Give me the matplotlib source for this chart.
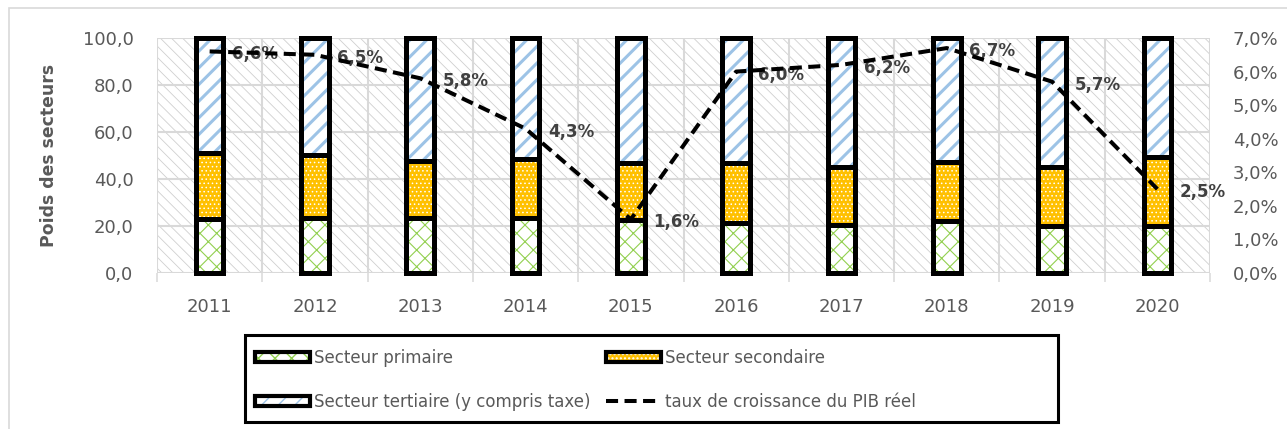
import numpy as np
import matplotlib
matplotlib.use('Agg')
import matplotlib.pyplot as plt
from matplotlib.patches import Rectangle
from matplotlib.lines import Line2D
from matplotlib.ticker import FuncFormatter, FixedLocator

years = ['2011', '2012', '2013', '2014', '2015', '2016', '2017', '2018', '2019', '2020']
primaire = [23.0, 23.5, 23.5, 23.3, 22.5, 21.3, 20.5, 22.3, 19.8, 20.0]
secondaire = [27.9, 26.7, 24.2, 25.2, 24.2, 25.4, 24.7, 25.1, 25.4, 29.2]
tertiaire = [49.1, 49.8, 52.3, 51.5, 53.3, 53.3, 54.8, 52.6, 54.8, 50.8]
taux = [6.6, 6.5, 5.8, 4.3, 1.6, 6.0, 6.2, 6.7, 5.7, 2.5]

names = ['Secteur primaire', 'Secteur secondaire', 'Secteur tertiaire (y compris taxe)']
line_name = 'taux de croissance du PIB r\u00e9el'

gray_txt = '#595959'
grid_col = '#d9d9d9'

def hatch_lw(p, lw):
  if hasattr(p, 'set_hatch_linewidth'):
    p.set_hatch_linewidth(lw)

def fr(v, dec=1):
  return ('%.*f' % (dec, v)).replace('.', ',')

W, H = 1287, 429
f = plt.figure(figsize=(W/100, H/100), dpi=100)

# chart area border
f.patches.append(Rectangle((9/W, -0.1), 1.2, 1 - 8/H + 0.1, transform=f.transFigure,
                           fill=False, edgecolor=grid_col, lw=1.2))

ax = f.add_axes([157/W, (H-273)/H, (1210-157)/W, (273-38)/H])
x = np.arange(len(years))

# hatched plot area background
bg = Rectangle((0, 0), 1, 1, transform=ax.transAxes, facecolor='white', edgecolor='#cfcfcf',
               hatch='\\\\\\', lw=0, zorder=0)
hatch_lw(bg, 0.6)
ax.add_patch(bg)

w = 0.263
bottoms = [np.zeros(len(x)), np.array(primaire), np.array(primaire) + np.array(secondaire)]
vals = [primaire, secondaire, tertiaire]
faces = ['white', '#ffc000', 'white']
hcols = ['#92d050', 'white', '#9dc3e6']
hatches = ['xx', '....', '//']
hlws = [0.8, 0.6, 2.2]
for i in range(3):
  b = ax.bar(x, vals[i], w, bottom=bottoms[i], facecolor=faces[i], edgecolor=hcols[i],
             hatch=hatches[i], lw=0, zorder=2)
  for p in b.patches:
    hatch_lw(p, hlws[i])
  o = ax.bar(x, vals[i], w, bottom=bottoms[i], fill=False, edgecolor='black', lw=3.6, zorder=3)
  for p in o.patches:
    p.set_clip_on(False)

ax.set_xlim(-0.5, len(x) - 0.5)
ax.set_ylim(0, 100)
ax.set_yticks(np.arange(0, 101, 20))
ax.yaxis.set_major_formatter(FuncFormatter(lambda v, p: fr(v)))
ax.set_xticks(x)
ax.set_xticklabels(years)
ax.xaxis.set_minor_locator(FixedLocator(np.arange(-0.5, len(x), 1)))
for s in ax.spines.values():
  s.set_visible(False)
ax.grid(True, axis='y', which='major', color=grid_col, lw=1.5, zorder=1)
ax.grid(True, axis='x', which='minor', color=grid_col, lw=1.5, zorder=1)
ax.set_axisbelow(True)
ax.tick_params(axis='x', which='major', length=0, pad=18, labelsize=13, labelcolor=gray_txt)
ax.tick_params(axis='x', which='minor', length=6.5, width=1.1, color=grid_col)
ax.tick_params(axis='y', length=0, pad=17, labelsize=13, labelcolor=gray_txt)
ax.set_ylabel('Poids des secteurs', fontsize=12.4, fontweight='bold', color=gray_txt)
ax.yaxis.set_label_coords(-0.094, 0.5)

ax2 = ax.twinx()
ax2.set_ylim(0, 7)
ax2.set_yticks(np.arange(0, 7.01, 1))
ax2.yaxis.set_major_formatter(FuncFormatter(lambda v, p: fr(v) + '%'))
ax2.tick_params(axis='y', length=0, pad=16.5, labelsize=13, labelcolor=gray_txt)
for s in ax2.spines.values():
  s.set_visible(False)
ln, = ax2.plot(x, taux, color='black', lw=2.9, linestyle=(0, (3, 1.6)), dash_capstyle='butt', zorder=5)
ln.set_clip_on(False)
for i in range(len(x)):
  ax2.annotate(fr(taux[i]) + '%', (x[i], taux[i]), xytext=(16, -2.2), textcoords='offset points',
               ha='left', va='center', fontsize=12, fontweight='bold', color='#404040',
               annotation_clip=False)

# legend handles: coloured hatch + black frame on top
def key(i):
  fill = Rectangle((0, 0), 1, 1, facecolor=faces[i], edgecolor=hcols[i], hatch=hatches[i], lw=0)
  hatch_lw(fill, hlws[i])
  edge = Rectangle((0, 0), 1, 1, fill=False, edgecolor='black', lw=3.0)
  return (fill, edge)

handles = [key(0), key(2), key(1),
           Line2D([], [], color='black', lw=2.9, linestyle=(0, (3, 1.6)))]
labels = [names[0], names[2], names[1], line_name]
leg = f.legend(handles, labels, ncol=2, loc='upper left', bbox_to_anchor=(241/W, 1 - 335/H),
               fontsize=12, handlelength=3.3, handleheight=0.6, handletextpad=0.25,
               columnspacing=0.9, labelspacing=1.55, borderpad=0.84, borderaxespad=0,
               frameon=False, labelcolor=gray_txt)
# legend box, wider than its entries as in the reference
f.patches.append(Rectangle((245/W, 1 - 422/H), (1058-245)/W, (422-335)/H, transform=f.transFigure,
                           fill=False, edgecolor='black', lw=2.2, zorder=5))

f.savefig('out.png', dpi=100)
